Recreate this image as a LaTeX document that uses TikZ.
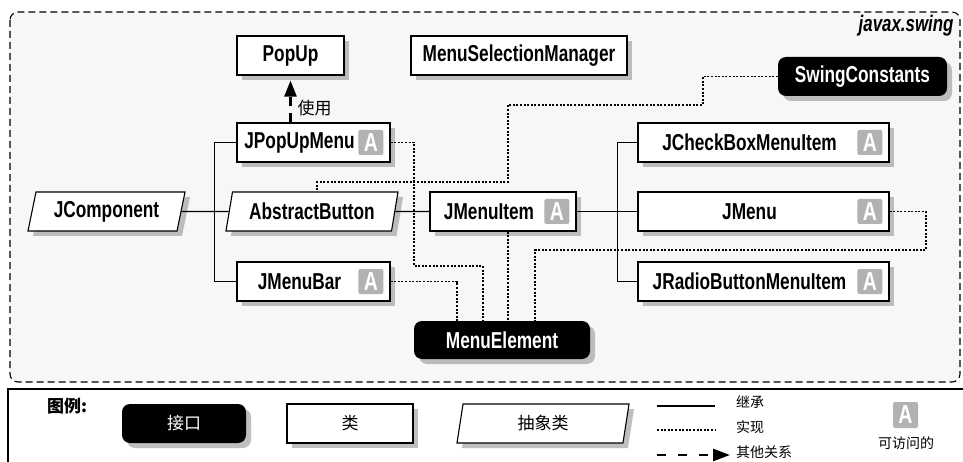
\documentclass[tikz,border=0pt]{standalone}
\usepackage{fontspec}
\setmainfont{Liberation Sans}[FakeStretch=0.75]
\newfontfamily\cjk{Noto Sans CJK SC}
\usetikzlibrary{shapes.geometric, shadows, arrows.meta}
\tikzset{
    every node/.style={font=\bfseries\fontsize{23}{25}\selectfont},
    cast/.style={drop shadow={shadow xshift=5pt, shadow yshift=-5pt, fill=black!45, opacity=.55}},
    clsbox/.style={ % normal class
        draw, line width=1.1pt, fill=white, cast,
        minimum height=39pt, inner sep=0pt
    },
    ifbox/.style={ % interface
        fill=black, text=white, rounded corners=8pt, cast,
        minimum height=39pt, inner sep=0pt
    },
    absbox/.style={ % abstract class
        trapezium, trapezium left angle=69, trapezium right angle=111,
        trapezium stretches body, draw, line width=1.1pt, fill=white, cast,
        minimum height=39pt, inner sep=0pt
    },
    badge/.style={
        fill=black!30, text=white, rounded corners=2pt,
        minimum width=25pt, minimum height=25pt, inner sep=0pt,
        font=\bfseries\fontsize{26}{26}\selectfont
    },
    cjktext/.style={font=\cjk\fontsize{17}{17}\selectfont},
    cjksmall/.style={font=\cjk\fontsize{14}{14}\selectfont, inner sep=1pt},
    inherit/.style={line width=1.1pt},
    impl/.style={line width=1.1pt, dash pattern=on 2pt off 1.6pt},
    uses/.style={line width=2.4pt, dash pattern=on 9pt off 7pt,
        -{Triangle[length=16pt, width=12pt]}}
}

\begin{document}
\begin{tikzpicture}[x=1pt, y=-1pt]
    \useasboundingbox (0,0) rectangle (963,462);
    % package frame and legend frame
    \draw[line width=1.1pt, dash pattern=on 7pt off 4pt, fill=black!3, rounded corners=8pt]
        (10,12) rectangle (960,382);
    \draw[line width=1.1pt, fill=white] (8,389) rectangle (975,475);
    \node[anchor=east, font=\bfseries\itshape\fontsize{22.5}{24}\selectfont] (pkg) at (957,26) {javax.swing};

    % top row
    \node[clsbox, minimum width=107pt]  (popup)  at (290.5,55.5) {PopUp};
    \node[clsbox, minimum width=216pt]  (msm)    at (519,55.5)   {MenuSelectionManager};
    \node[ifbox,  minimum width=169pt]  (swing)  at (862.5,76.5) {SwingConstants};
    % left block
    \node[clsbox, minimum width=153pt]  (pum)    at (313.5,142.5) {JPopUpMenu\hspace*{28pt}};
    \node[absbox, minimum width=157pt]  (jcomp)  at (106.5,211.5) {JComponent};
    \node[absbox, minimum width=172pt]  (absb)   at (312,211.5)   {AbstractButton};
    \node[clsbox, minimum width=153pt]  (mbar)   at (313.5,281.5) {JMenuBar\hspace*{28pt}};
    % middle
    \node[clsbox, minimum width=146pt]  (mitem)  at (503,211.5)   {JMenuItem\hspace*{28pt}};
    \node[ifbox,  minimum width=176pt, minimum height=38pt] (melem) at (502,340) {MenuElement};
    % right block
    \node[clsbox, minimum width=251pt]  (cbmi)   at (763.5,142.5) {JCheckBoxMenuItem\hspace*{28pt}};
    \node[clsbox, minimum width=251pt]  (jmenu)  at (763.5,211.5) {JMenu\hspace*{28pt}};
    \node[clsbox, minimum width=251pt]  (rbmi)   at (763.5,281.5) {JRadioButtonMenuItem\hspace*{28pt}};

    \foreach \n in {pum, mbar, mitem, cbmi, jmenu, rbmi}
        \node[badge, anchor=east] (\n-a) at ([xshift=-7pt]\n.east) {A};

    % inheritance
    \draw[inherit] (jcomp) -- (absb);
    \draw[inherit] (pum.west) -- ++(-22,0) |- (mbar.west);
    \draw[inherit] (absb) -- (mitem);
    \draw[inherit] (mitem) -- (jmenu);
    \draw[inherit] (cbmi.west) -- ++(-20,0) |- (rbmi.west);

    % implementation
    \draw[impl] (swing.west) -| (703,105) -| (508,182) -| ([xshift=5pt]absb.north);
    \draw[impl] (pum.east) -| (414,266) -| ([xshift=-19pt]melem.north);
    \draw[impl] (mbar.east) -| ([xshift=-45pt]melem.north);
    \draw[impl] ([xshift=5pt]mitem.south) -- ([xshift=5pt]mitem.south |- melem.north);
    \draw[impl] (jmenu.east) -| (926,250) -| ([xshift=33pt]melem.north);

    % other relation
    \draw[uses, shorten >=5pt] (pum.north -| popup.south) --
        node[cjktext, anchor=west, pos=0.3, xshift=5pt, inner sep=1pt] (uselbl) {使用} (popup.south);

    % legend
    \node[cjktext, font=\cjk\bfseries\fontsize{17}{17}\selectfont] (lgd) at (67,406) {图例:};
    \node[ifbox,  cjktext, minimum width=124pt] (lgif)  at (184,423.5) {接口};
    \node[clsbox, cjktext, minimum width=126pt] (lgcls) at (350,423.5) {类};
    \node[absbox, cjktext, minimum width=172pt] (lgabs) at (543,423.5) {抽象类};

    \coordinate (inhA) at (657,406);  \coordinate (inhB) at (715,406);
    \coordinate (impA) at (657,430);  \coordinate (impB) at (715,430);
    \coordinate (useA) at (657,455);  \coordinate (useB) at (730,455);
    \draw[inherit] (inhA) -- (inhB);
    \draw[impl]    (impA) -- (impB);
    \draw[uses, dash pattern=on 9pt off 12pt, -{Triangle[length=17pt, width=12pt]}] (useA) -- (useB);
    \node[cjksmall, anchor=west] (inhlbl) at (735,402) {继承};
    \node[cjksmall, anchor=west] (implbl) at (735,427) {实现};
    \node[cjksmall, anchor=west] (uselg)  at (735,452) {其他关系};

    \node[badge, minimum height=26pt] (lga)    at (905.5,415) {A};
    \node[cjksmall]                   (lgalbl) at (906,443)   {可访问的};
\end{tikzpicture}
\end{document}
